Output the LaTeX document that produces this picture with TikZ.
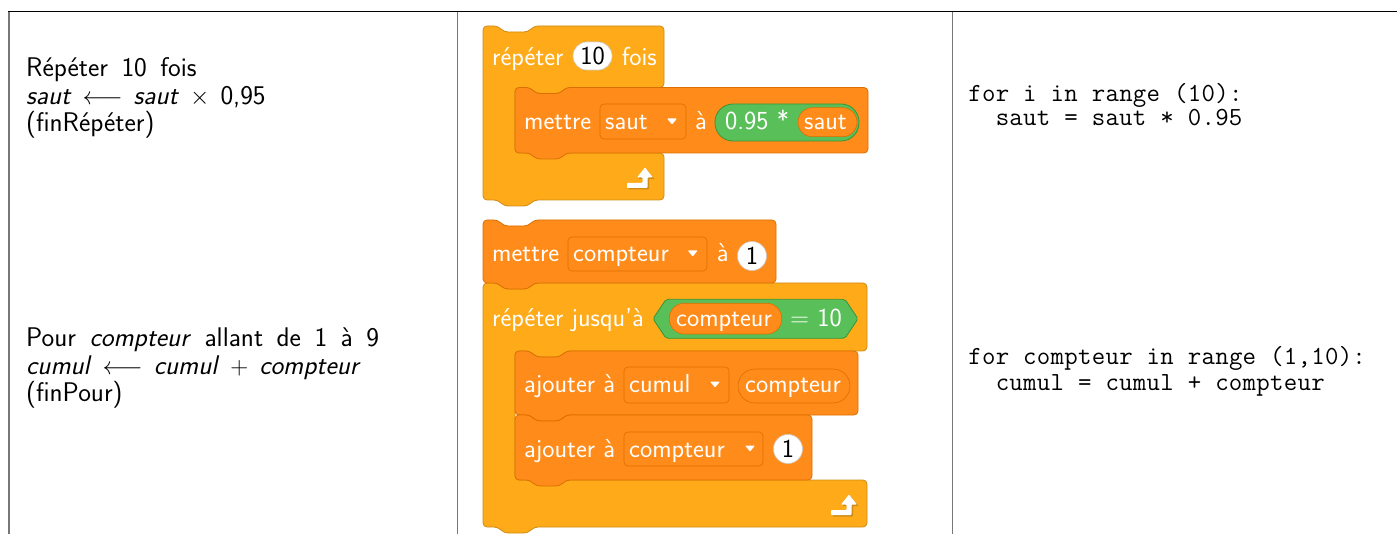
\documentclass[tikz,border=0pt]{standalone}
\usepackage{fontspec}
\definecolor{ctrl}{HTML}{FFAB19}
\definecolor{ctrlD}{HTML}{CF8B17}
\definecolor{varc}{HTML}{FF8C1A}
\definecolor{varD}{HTML}{DB6E00}
\definecolor{opc}{HTML}{59C059}
\definecolor{opD}{HTML}{389438}
\definecolor{rulec}{HTML}{777777}
\ExplSyntaxOn
\NewDocumentCommand\codeline{m}{\str_map_inline:nn {#1} {\makebox[13.72pt][c]{##1}}}
\ExplSyntaxOff
\newcommand{\lfont}{\sffamily\fontsize{27}{30}\selectfont\spaceskip=13.5pt\relax}
\newcommand{\mfont}{\sffamily\fontsize{27}{30}\selectfont\spaceskip=11pt\relax}
\newcommand{\stackblk}[6]{%
 \filldraw[fill=#5,draw=#6,line width=0.8pt,rounded corners=4pt] (#1,#2) -- ({#1+15},#2) -- ({#1+21},{#2+6}) -- ({#1+45},{#2+6}) -- ({#1+51},#2) -- (#3,#2) -- (#3,#4) -- ({#1+51},#4) -- ({#1+45},{#4+6}) -- ({#1+21},{#4+6}) -- ({#1+15},#4) -- (#1,#4) -- cycle;}
\newcommand{\cblk}[7]{%
 \filldraw[fill=ctrl,draw=ctrlD,line width=0.8pt,rounded corners=4pt] (#1,#2) -- ({#1+15},#2) -- ({#1+21},{#2+6}) -- ({#1+45},{#2+6}) -- ({#1+51},#2) -- (#3,#2) -- (#3,#4) -- ({#1+83},#4) -- ({#1+77},{#4+6}) -- ({#1+53},{#4+6}) -- ({#1+47},#4) -- ({#1+32},#4) -- ({#1+32},#5) -- (#6,#5) -- (#6,#7) -- ({#1+51},#7) -- ({#1+45},{#7+6}) -- ({#1+21},{#7+6}) -- ({#1+15},#7) -- (#1,#7) -- cycle;}
\newcommand{\retarrow}[2]{%
 \begin{scope}[shift={(#1,#2)}]
  \fill[ctrlD,rounded corners=0.8pt] (-16.5,-1) -- (-1,-1) -- (-1,-6.5) -- (-6.5,-6.5) -- (1.5,-16.5) -- (9.5,-6.5) -- (4,-6.5) -- (4,4) -- (-16.5,4) -- cycle;
  \fill[white,rounded corners=0.8pt] (-18,-2.5) -- (-2.5,-2.5) -- (-2.5,-8) -- (-8,-8) -- (0,-18) -- (8,-8) -- (2.5,-8) -- (2.5,2.5) -- (-18,2.5) -- cycle;
 \end{scope}}
\newcommand{\ddtri}[2]{\fill[white,rounded corners=0.8pt] ({#1-5},{#2-3}) -- ({#1+5},{#2-3}) -- (#1,{#2+3}) -- cycle;}
\begin{document}
\begin{tikzpicture}[x=1pt,y=-1pt,
  blk/.style={text=white,font=\sffamily\fontsize{26}{30}\selectfont,anchor=base west,inner sep=0pt},
  num/.style={text=black,font=\sffamily\fontsize{26}{30}\selectfont,anchor=base,inner sep=0pt},
  ltext/.style={font=\lfont,anchor=base west,inner sep=0pt},
  mtext/.style={font=\mfont,anchor=base west,inner sep=0pt},
  code/.style={font=\ttfamily\fontsize{26.1}{30}\selectfont,anchor=base west,inner sep=0pt}]
\useasboundingbox (0,0) rectangle (1397,534);
% table
\draw[rulec,line width=1.8pt] (9,11.5) -- (9,534);
\draw[rulec,line width=1.5pt] (457.7,11.5) -- (457.7,534);
\draw[rulec,line width=1.5pt] (952.3,11.5) -- (952.3,534);
\draw[black,line width=1.2pt] (8,11.5) -- (1397,11.5);
% left texts
\node[ltext] (l1) at (26,76.7) {Répéter 10 fois};
\node[mtext] (l2) at (26,104.2) {\textit{saut} $\longleftarrow$ \textit{saut} $\times$ 0,95};
\node[ltext] (l3) at (26,131.7) {(finRépéter)};
\node[ltext] (l4) at (26,346.7) {Pour \textit{compteur} allant de 1 à 9};
\node[mtext] (l5) at (26,374.2) {\textit{cumul} $\longleftarrow$ \textit{cumul} $+$ \textit{compteur}};
\node[ltext] (l6) at (26,401.7) {(finPour)};
% code
\node[code] (c1) at (968,101.5) {\codeline{for i in range (10):}};
\node[code] (c2) at (995.4,126) {\codeline{saut = saut * 0.95}};
\node[code] (c3) at (968,365) {\codeline{for compteur in range (1,10):}};
\node[code] (c4) at (995.4,390) {\codeline{cumul = cumul + compteur}};
% scratch block 1
\cblk{483}{26}{664}{87.5}{153}{664}{200}
\stackblk{515}{87.5}{868}{153}{varc}{varD}
\node[blk] (r1) at (492,65.5) {répéter};
\filldraw[fill=white,draw=black!20,line width=0.6pt,rounded corners=14pt] (573,42) rectangle (612,70);
\node[num] (n10) at (592.5,64.5) {10};
\node[blk] (f1) at (621.7,65.5) {fois};
\node[blk] (m1) at (524,130) {mettre};
\filldraw[fill=varc,draw=varD,line width=0.6pt,rounded corners=4pt] (600,104) rectangle (686,139);
\node[blk] (d1) at (605,130) {saut};
\ddtri{672}{121.5}
\node[blk] (a1) at (695,130) {à};
\filldraw[fill=opc,draw=opD,line width=0.8pt,rounded corners=18pt] (715,104) rectangle (859,141);
\node[blk] (o1) at (725,130) {0.95 *};
\filldraw[fill=varc,draw=varD,line width=0.6pt,rounded corners=14.5pt] (798,107.7) rectangle (857,136.7);
\node[blk] (s1) at (804,130) {saut};
\retarrow{645}{185.5}
% scratch block 2
\cblk{483}{283}{867}{351}{480}{867}{527}
\stackblk{483}{220}{776}{283}{varc}{varD}
\node[blk] (m2) at (492,261.5) {mettre};
\filldraw[fill=varc,draw=varD,line width=0.6pt,rounded corners=4pt] (568,237) rectangle (707,271);
\node[blk] (d2) at (573,261.5) {compteur};
\ddtri{692.7}{253.5}
\node[blk] (a2) at (716.7,261.5) {à};
\filldraw[fill=white,draw=black!20,line width=0.6pt] (752,256) circle (14.5);
\node[num] (n1a) at (752,264.5) {1};
\node[blk] (r2) at (492,326.5) {répéter jusqu'à};
\filldraw[fill=opc,draw=opD,line width=0.8pt,rounded corners=2pt] (653,318.8) -- (666,299.3) -- (845,299.3) -- (858,318.8) -- (845,338.3) -- (666,338.3) -- cycle;
\filldraw[fill=varc,draw=varD,line width=0.6pt,rounded corners=15pt] (669.3,303.3) rectangle (781.7,334);
\node[blk] (v2) at (676,326.5) {compteur};
\node[blk] (e2) at (790,326.5) {= 10};
\stackblk{515}{351}{858}{415}{varc}{varD}
\node[blk] (aj1) at (524,392.5) {ajouter à};
\filldraw[fill=varc,draw=varD,line width=0.6pt,rounded corners=4pt] (624,367) rectangle (729,403);
\node[blk] (d3) at (629,392.5) {cumul};
\ddtri{715}{384.5}
\filldraw[fill=varc,draw=varD,line width=0.6pt,rounded corners=17pt] (738,369) rectangle (850,403);
\node[blk] (v3) at (745,392.5) {compteur};
\stackblk{515}{415}{812}{480}{varc}{varD}
\node[blk] (aj2) at (524,457) {ajouter à};
\filldraw[fill=varc,draw=varD,line width=0.6pt,rounded corners=4pt] (624,432) rectangle (763,466);
\node[blk] (d4) at (629,457) {compteur};
\ddtri{750}{448.5}
\filldraw[fill=white,draw=black!20,line width=0.6pt] (788,449) circle (14.5);
\node[num] (n1b) at (788,457.5) {1};
\retarrow{849}{512.5}
\end{tikzpicture}
\end{document}
